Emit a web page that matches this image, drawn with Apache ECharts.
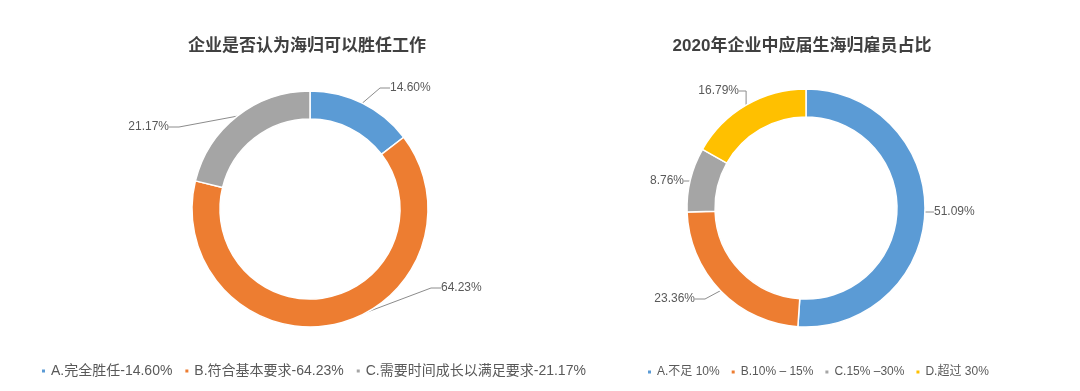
<!DOCTYPE html>
<html>
<head>
<meta charset="utf-8">
<script src="https://cdn.jsdelivr.net/npm/echarts@6/dist/echarts.min.js"></script>
<style>
html,body{margin:0;padding:0;background:#fff;}
#chart{width:1080px;height:391px;}
</style>
</head>
<body>
<div id="chart"></div>
<script>
// ---- data ----
const leftTitle = '企业是否认为海归可以胜任工作';
const leftCategories = ['A.完全胜任-14.60%', 'B.符合基本要求-64.23%', 'C.需要时间成长以满足要求-21.17%'];
const leftValues = [14.60, 64.23, 21.17];

const rightTitle = '2020年企业中应届生海归雇员占比';
const rightCategories = ['A.不足 10%', 'B.10% – 15%', 'C.15% –30%', 'D.超过 30%'];
const rightValues = [51.09, 23.36, 8.76, 16.79];

// ---- styling / layout ----
const colors = ['#5B9BD5', '#ED7D31', '#A5A5A5', '#FFC000'];
const textColor = '#595959';
const fontFamily = '"Liberation Sans", "Noto Sans CJK SC", sans-serif';

// label anchor placements (layout only)
const leftLabelPos = [
  {x: 390, y: 88, align: 'left'},
  {x: 441, y: 288, align: 'left'},
  {x: 169, y: 127, align: 'right'}
];
const rightLabelPos = [
  {x: 934, y: 212, align: 'left'},
  {x: 695, y: 299, align: 'right'},
  {x: 684, y: 181, align: 'right'},
  {x: 739, y: 91, align: 'right'}
];

function makeData(cats, vals) {
  return cats.map((c, i) => ({name: c, value: vals[i], itemStyle: {color: colors[i]}}));
}
function layoutFn(pos) {
  return function (params) {
    const p = pos[params.dataIndex];
    return {x: p.x, y: p.y, align: p.align, verticalAlign: 'middle'};
  };
}

const pieCommon = {
  type: 'pie',
  clockwise: true,
  startAngle: 90,
  avoidLabelOverlap: false,
  itemStyle: {borderColor: '#fff', borderWidth: 1.5},
  label: {
    show: true,
    position: 'outside',
    color: textColor,
    fontSize: 12,
    fontFamily: fontFamily,
    formatter: p => p.value.toFixed(2) + '%'
  },
  labelLine: {show: true, length: 12, length2: 10, lineStyle: {color: '#8c8c8c', width: 1}},
  emphasis: {disabled: true}
};

const chart = echarts.init(document.getElementById('chart'));
chart.setOption({
  animation: false,
  backgroundColor: '#fff',
  title: [
    {text: leftTitle, left: 302, top: 33, textAlign: 'center',
     textStyle: {fontSize: 17, fontWeight: 'bold', color: '#404040', fontFamily: fontFamily}},
    {text: rightTitle, left: 797, top: 33, textAlign: 'center',
     textStyle: {fontSize: 17, fontWeight: 'bold', color: '#404040', fontFamily: fontFamily}}
  ],
  legend: [
    {data: leftCategories, left: 35, top: 359, icon: 'rect', itemWidth: 5, itemHeight: 5, itemGap: 11,
     textStyle: {color: textColor, fontSize: 14, fontFamily: fontFamily}, selectedMode: false},
    {data: rightCategories, left: 641, top: 361, icon: 'rect', itemWidth: 5, itemHeight: 5, itemGap: 10,
     textStyle: {color: textColor, fontSize: 12, fontFamily: fontFamily}, selectedMode: false}
  ],
  series: [
    Object.assign({}, pieCommon, {
      name: 'left', center: [310, 209], radius: [90, 118],
      data: makeData(leftCategories, leftValues),
      labelLayout: layoutFn(leftLabelPos)
    }),
    Object.assign({}, pieCommon, {
      name: 'right', center: [806, 208], radius: [91, 119],
      data: makeData(rightCategories, rightValues),
      labelLayout: layoutFn(rightLabelPos)
    })
  ]
});
</script>
</body>
</html>
